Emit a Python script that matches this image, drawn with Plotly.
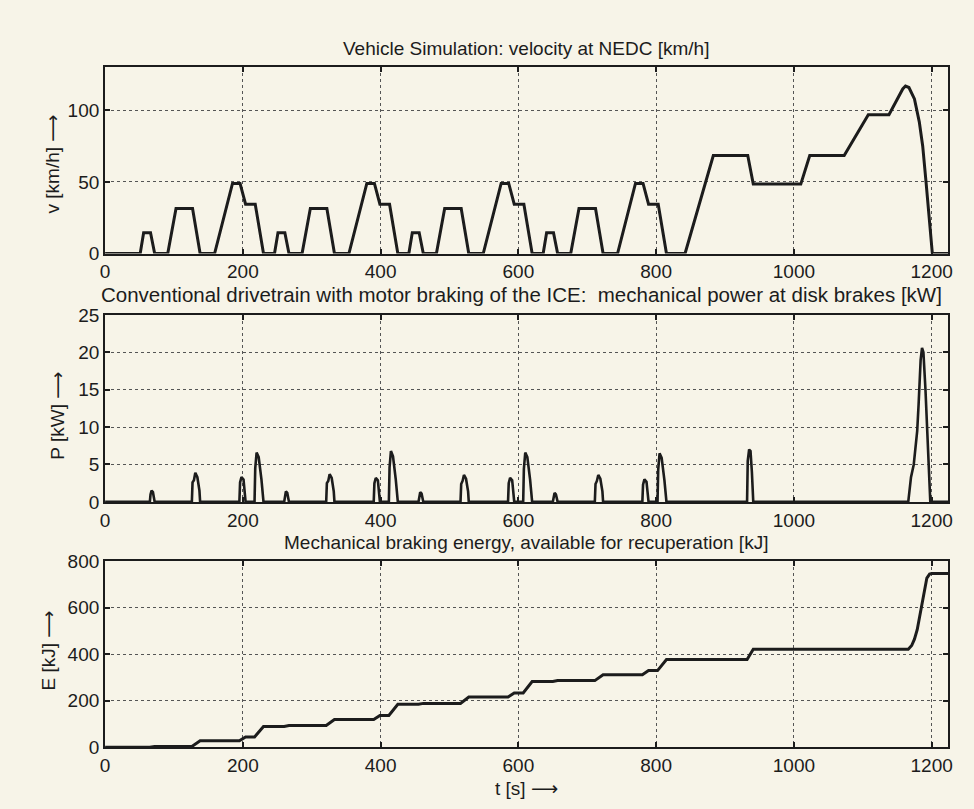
import plotly.graph_objects as go

# ---------------- data ----------------
# Vehicle velocity over the NEDC (ECE-15 x4 + EUDC), breakpoints [s], [km/h]
t_v = [0, 51, 56, 66, 72, 91, 103, 127, 138, 159, 185, 196, 204, 218, 230,
       246, 251, 261, 267, 286, 298, 322, 333, 354, 380, 391, 399, 413, 425,
       441, 446, 456, 462, 481, 493, 517, 528, 549, 575, 586, 594, 608, 620,
       636, 641, 651, 657, 676, 688, 712, 723, 744, 770, 781, 789, 803, 815,
       842, 883, 933, 941, 1010, 1023, 1073, 1108, 1138, 1158, 1162, 1167,
       1175, 1182, 1187, 1192, 1197, 1201, 1224]
v_kmh = [0, 0, 14.5, 14.5, 0, 0, 31.5, 31.5, 0, 0, 49, 49, 34.5, 34.5, 0,
         0, 14.5, 14.5, 0, 0, 31.5, 31.5, 0, 0, 49, 49, 34.5, 34.5, 0,
         0, 14.5, 14.5, 0, 0, 31.5, 31.5, 0, 0, 49, 49, 34.5, 34.5, 0,
         0, 14.5, 14.5, 0, 0, 31.5, 31.5, 0, 0, 49, 49, 34.5, 34.5, 0,
         0, 68.5, 68.5, 48.5, 48.5, 68.5, 68.5, 97, 97, 115, 117, 116,
         108, 92, 75, 49, 21, 0, 0]

# Mechanical power at the disk brakes [kW]
t_p = [0,
       65, 66, 67.5, 69.5, 72,
       126, 127, 129, 131, 134, 137, 138,
       195, 196, 198, 201, 204,
       217, 218, 220, 223, 227, 230,
       260, 261, 262.5, 264.5, 267,
       321, 322, 324, 326, 329, 332, 333,
       390, 391, 393, 396, 399,
       412, 413, 415, 418, 422, 425,
       455, 456, 457.5, 459.5, 462,
       516, 517, 519, 521, 524, 527, 528,
       585, 586, 588, 591, 594,
       607, 608, 610, 613, 617, 620,
       650, 651, 652.5, 654.5, 657,
       711, 712, 714, 716, 719, 722, 723,
       780, 781, 783, 786, 789,
       802, 803, 805, 808, 812, 815,
       932, 933, 935, 937, 939, 941,
       1166, 1168, 1170, 1174, 1177, 1179, 1181, 1184, 1186, 1188, 1191, 1194, 1196, 1198,
       1224]
p_kw = [0,
        0, 1.0, 1.5, 1.3, 0,
        0, 2.6, 2.9, 3.9, 3.3, 1.5, 0,
        0, 2.6, 3.3, 3.0, 0,
        0, 4.5, 6.6, 6.0, 3.0, 0,
        0, 0.9, 1.4, 1.2, 0,
        0, 2.5, 2.8, 3.7, 3.2, 1.4, 0,
        0, 2.5, 3.2, 2.9, 0,
        0, 4.6, 6.8, 6.1, 3.0, 0,
        0, 0.9, 1.3, 1.1, 0,
        0, 2.4, 2.8, 3.6, 3.1, 1.4, 0,
        0, 2.5, 3.2, 2.9, 0,
        0, 4.4, 6.6, 6.0, 3.0, 0,
        0, 0.8, 1.2, 1.0, 0,
        0, 2.4, 2.8, 3.6, 3.1, 1.4, 0,
        0, 2.3, 3.0, 2.7, 0,
        0, 4.3, 6.5, 5.9, 2.9, 0,
        0, 5.5, 7.0, 6.8, 4.0, 0,
        0, 1.5, 3.3, 5.0, 8.0, 9.5, 13, 19, 20.6, 20, 15, 8, 3, 0,
        0]

# Mechanical braking energy available for recuperation [kJ]
t_e = [0, 65, 72, 126, 138, 195, 204, 217, 230, 260, 267, 321, 333,
       390, 399, 412, 425, 455, 462, 516, 528, 585, 594, 607, 620,
       650, 657, 711, 723, 780, 789, 802, 815, 932, 941,
       1166, 1171, 1175, 1179, 1183, 1186, 1190, 1193, 1197, 1200, 1224]
e_kj = [0, 0, 4, 4, 28, 28, 45, 45, 90, 90, 94, 94, 120,
        120, 137, 137, 185, 185, 189, 189, 216, 216, 234, 234, 283,
        283, 287, 287, 312, 312, 330, 330, 378, 378, 422,
        422, 438, 465, 506, 570, 630, 690, 728, 745, 748, 748]

x_ticks = [0, 200, 400, 600, 800, 1000, 1200]
v_ticks = [0, 50, 100]
p_ticks = [0, 5, 10, 15, 20, 25]
e_ticks = [0, 200, 400, 600, 800]

titles = ["Vehicle Simulation: velocity at NEDC [km/h]",
          "Conventional drivetrain with motor braking of the ICE:  mechanical power at disk brakes [kW]",
          "Mechanical braking energy, available for recuperation [kJ]"]
ARROW = '<span style="font-family:DejaVu Sans">⟶</span>'
y_titles = ["v [km/h] " + ARROW, "P [kW] " + ARROW, "E [kJ] " + ARROW]
x_title = "t [s] " + ARROW

# ---------------- figure ----------------
W, H = 974, 809
PAPER = "#f7f4e8"
INK = "#1c1c1c"
FONT = "Liberation Sans, Arial, sans-serif"

# plot boxes in pixels: (left, top, right, bottom)
boxes = [(101, 59, 952, 250), (101, 313, 952, 505), (101, 566, 952, 757)]

fig = go.Figure()
series = [(t_v, v_kmh, 3.0), (t_p, p_kw, 2.6), (t_e, e_kj, 3.0)]
yranges = [[0, 130], [0, 25], [0, 800]]
yticks = [v_ticks, p_ticks, e_ticks]

for i, ((tx, ty, lw), box) in enumerate(zip(series, boxes)):
    n = "" if i == 0 else str(i + 1)
    fig.add_trace(go.Scatter(x=tx, y=ty, mode="lines",
                             line=dict(color=INK, width=lw),
                             xaxis="x" + n, yaxis="y" + n, showlegend=False,
                             hoverinfo="skip"))
    l, t, r, b = box
    axis_common = dict(showline=True, linecolor=INK, linewidth=2, mirror="allticks",
                       ticks="inside", ticklen=5, tickcolor=INK, tickwidth=1.5,
                       showgrid=True, gridcolor="#555555", gridwidth=1, griddash="dot",
                       zeroline=False, tickfont=dict(family=FONT, size=19, color=INK))
    fig.update_layout(**{
        "xaxis" + n: dict(domain=[l / W, r / W], range=[0, 1224], tickvals=x_ticks,
                          anchor="y" + n, **axis_common),
        "yaxis" + n: dict(domain=[1 - b / H, 1 - t / H], range=yranges[i], tickvals=yticks[i],
                          anchor="x" + n, **axis_common),
    })

annotations = []
title_pos = [(526, 40), (521, 292), (526, 547)]
title_size = [19, 20.5, 19]
for txt, (tx, ty), fs in zip(titles, title_pos, title_size):
    annotations.append(dict(text=txt, x=tx / W, y=1 - ty / H, xref="paper", yref="paper",
                            xanchor="center", yanchor="middle", showarrow=False,
                            font=dict(family=FONT, size=fs, color=INK)))
ylab_pos = [(47, 158), (53, 417), (43, 658)]
for txt, (px, py) in zip(y_titles, ylab_pos):
    annotations.append(dict(text=txt, x=px / W, y=1 - py / H, xref="paper", yref="paper",
                            xanchor="center", yanchor="middle", showarrow=False, textangle=-90,
                            font=dict(family=FONT, size=19, color=INK)))
annotations.append(dict(text=x_title, x=526.5 / W, y=1 - 799 / H, xref="paper", yref="paper",
                        xanchor="center", yanchor="middle", showarrow=False,
                        font=dict(family=FONT, size=19, color=INK)))

fig.update_layout(width=W, height=H, margin=dict(l=0, r=0, t=0, b=0),
                  paper_bgcolor=PAPER, plot_bgcolor=PAPER,
                  annotations=annotations, font=dict(family=FONT, color=INK))

fig.write_html("out.html")
